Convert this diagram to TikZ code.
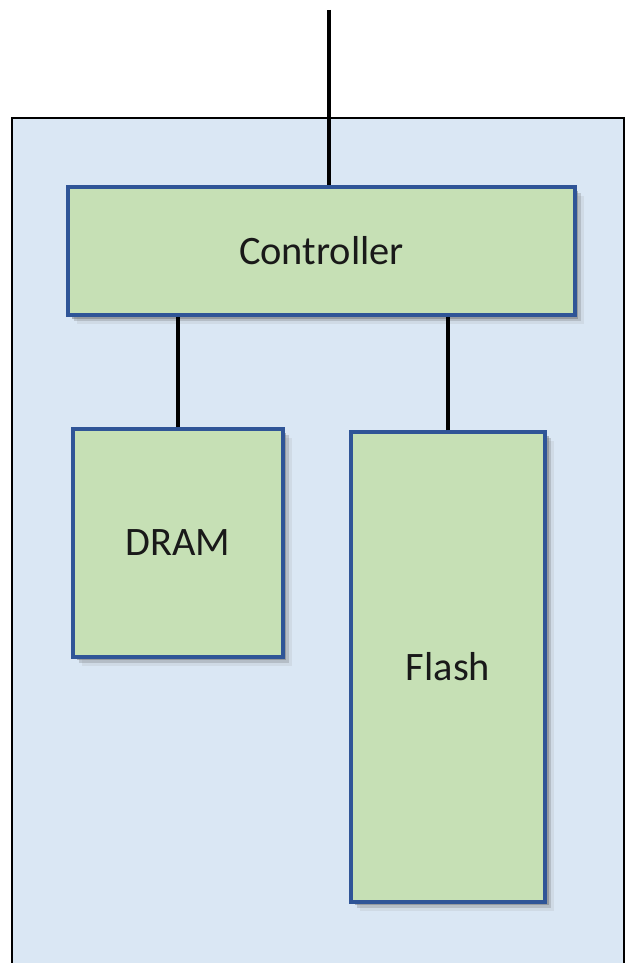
\documentclass[tikz,border=0pt]{standalone}
\usepackage{fontspec}
\setmainfont{Carlito}
\usepackage{tikz}
\usepackage{xcolor}
\usetikzlibrary{positioning,calc,shadows}

\definecolor{boardblue}{HTML}{DAE7F4}
\definecolor{chipgreen}{HTML}{C6E0B5}
\definecolor{chipedge}{HTML}{2F5597}

\tikzset{
  chip/.style={draw=chipedge,line width=2pt,fill=chipgreen,font=\fontsize{23}{27}\selectfont,text=black!90,
    drop shadow={shadow xshift=2pt,shadow yshift=-2pt,opacity=0.35,fill=black!70},
    drop shadow={shadow xshift=3.5pt,shadow yshift=-3.5pt,opacity=0.25,fill=black!60},
    drop shadow={shadow xshift=5pt,shadow yshift=-5pt,opacity=0.12,fill=black!50}},
  wire/.style={line width=2pt,black}
}

\begin{document}
\begin{tikzpicture}[x=0.02cm,y=-0.02cm]
\useasboundingbox (0,0) rectangle (626,963);
\draw[line width=1.4pt,fill=boardblue] (12,118) rectangle (624,990);
\node[chip,minimum width=10.14cm,minimum height=2.56cm] (ctrl) at (321.5,251) {Controller};
\node[chip,minimum width=4.2cm,minimum height=4.56cm] (dram) at (178,543) {DRAM};
\node[chip,minimum width=3.88cm,minimum height=9.4cm] (flash) at (448,667) {Flash};
\coordinate (host) at (329,10);
\draw[wire] (host) -- (host |- ctrl.north);
\draw[wire] (dram.north) -- (dram.north |- ctrl.south);
\draw[wire] (flash.north) -- (flash.north |- ctrl.south);
\end{tikzpicture}
\end{document}
